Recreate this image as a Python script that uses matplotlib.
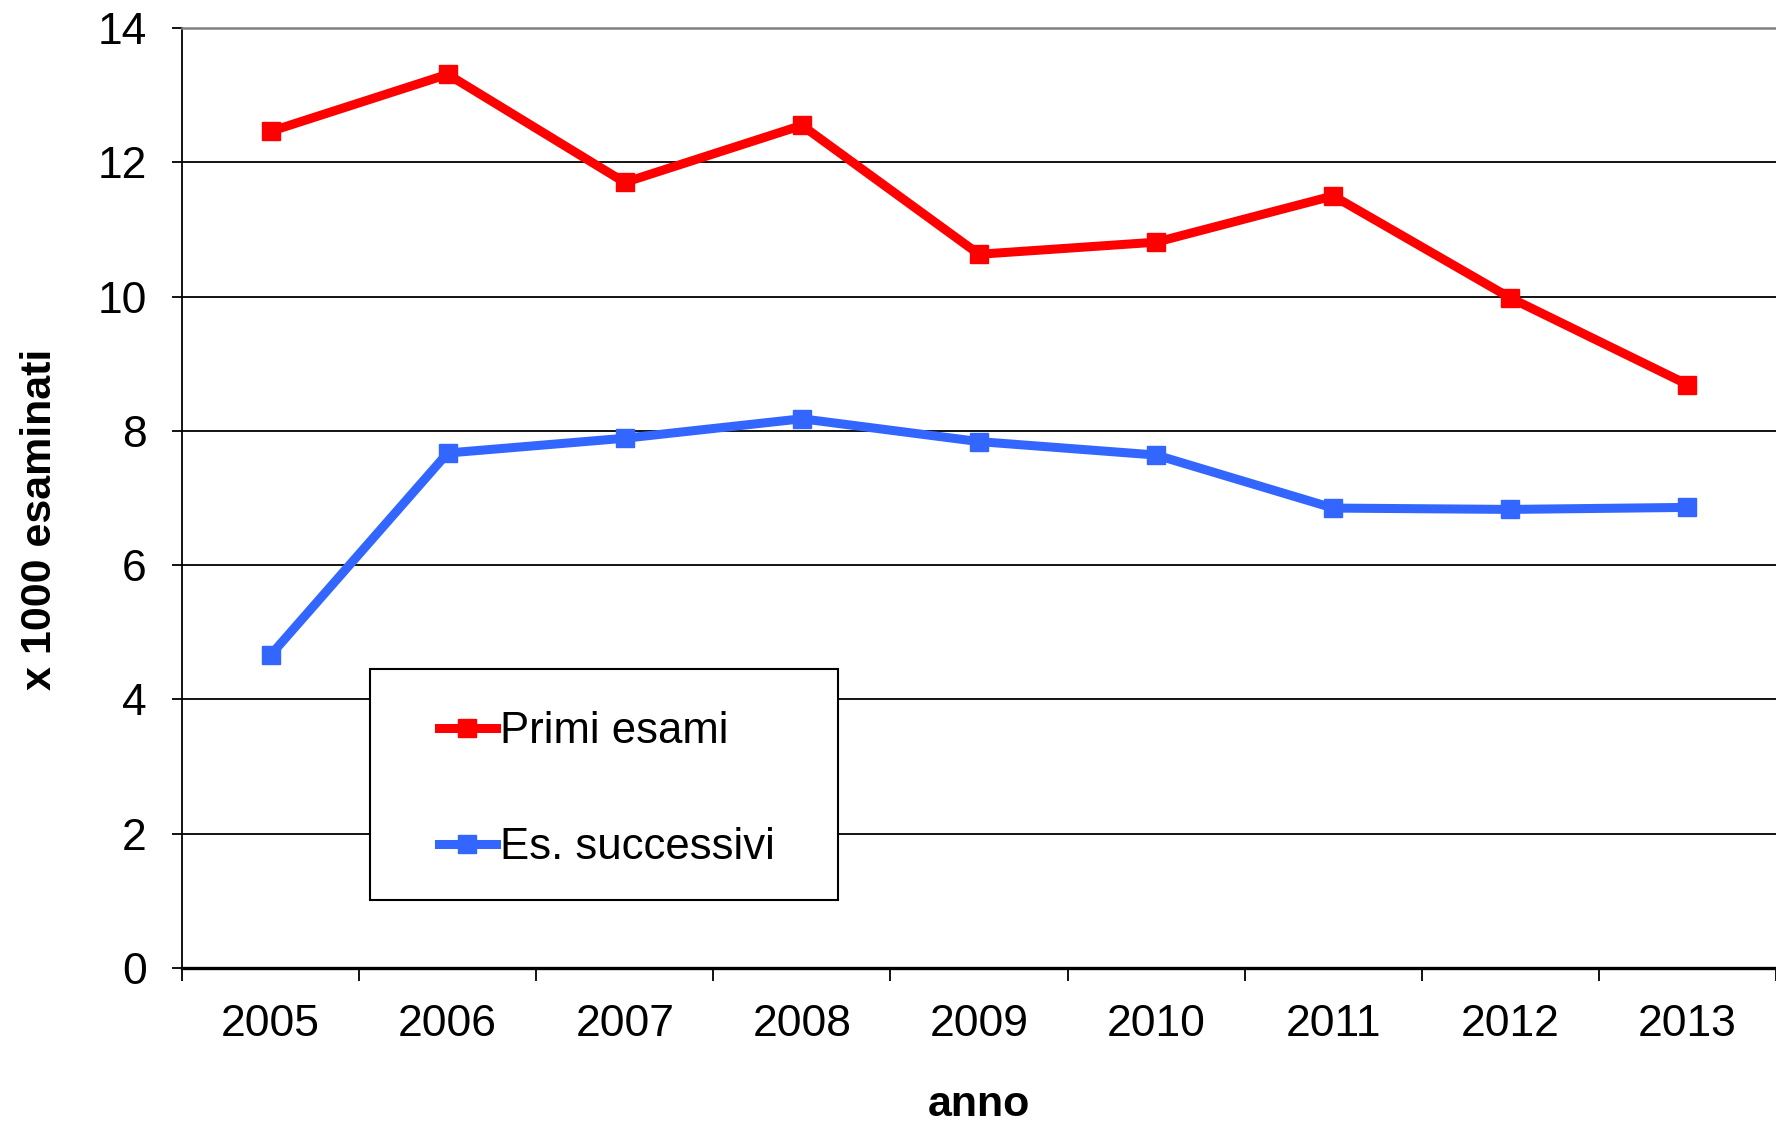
import numpy as np
import matplotlib.pyplot as plt
from matplotlib.patches import Rectangle

years = ["2005", "2006", "2007", "2008", "2009", "2010", "2011", "2012", "2013"]
primi_esami = [12.46, 13.31, 11.70, 12.55, 10.63, 10.81, 11.50, 9.98, 8.69]
esami_successivi = [4.66, 7.67, 7.89, 8.18, 7.84, 7.64, 6.85, 6.83, 6.86]

plt.rcParams['font.family'] = ['Liberation Sans', 'DejaVu Sans']

W, H = 1776, 1124
fig = plt.figure(figsize=(W / 100, H / 100), dpi=100)
ax = fig.add_axes([182 / W, 1 - 968 / H, (W - 182) / W, (968 - 28) / H])

x = np.arange(len(years)) + 0.5
ax.plot(x, primi_esami, color="#ff0000", lw=6.5, marker="s", ms=13,
        solid_joinstyle="miter", label="Primi esami", zorder=4, clip_on=False)
ax.plot(x, esami_successivi, color="#3366ff", lw=6.5, marker="s", ms=13,
        solid_joinstyle="miter", label="Es. successivi", zorder=4, clip_on=False)

ax.set_xlim(0, len(years))
ax.set_ylim(0, 14)
ax.set_yticks(np.arange(0, 15, 2))
ax.set_xticks(np.arange(0, len(years) + 1))
ax.set_xticklabels([])
ax.set_xticks(x, minor=True)
ax.set_xticklabels(years, minor=True)
ax.tick_params(axis="x", which="major", direction="out", length=9, width=1.3, color="black")
ax.tick_params(axis="x", which="minor", length=0, pad=26, labelsize=32)
ax.tick_params(axis="y", direction="out", length=7.5, width=1.3, pad=18, labelsize=32)

ax.grid(axis="y", color="black", lw=1.3)
ax.set_axisbelow(True)
ax.spines["right"].set_visible(False)
ax.spines["top"].set_color("#808080")
ax.spines["top"].set_linewidth(1.8)
ax.spines["left"].set_linewidth(1.3)
ax.spines["bottom"].set_linewidth(2.4)

fig.text(40 / W, 1 - 519 / H, "x 1000 esaminati", rotation=90, fontsize=31,
         fontweight="bold", ha="center", va="center")
fig.text((182 + W) / 2 / W, 1 - 1105 / H, "anno", fontsize=31,
         fontweight="bold", ha="center", va="center")

# legend frame
ax.add_patch(Rectangle((370 / W, 1 - 900 / H), 468 / W, 231 / H,
                       transform=fig.transFigure, facecolor="white",
                       edgecolor="black", lw=1.5, zorder=3, clip_on=False))
leg = ax.legend(loc="upper left", bbox_to_anchor=(439 / W, 1 - 711 / H),
                bbox_transform=fig.transFigure, frameon=False, fontsize=31.5,
                handlelength=1.3, handletextpad=0.1, labelspacing=1.72,
                borderpad=0, borderaxespad=0)
leg.set_zorder(6)

fig.savefig("out.png", dpi=100)
